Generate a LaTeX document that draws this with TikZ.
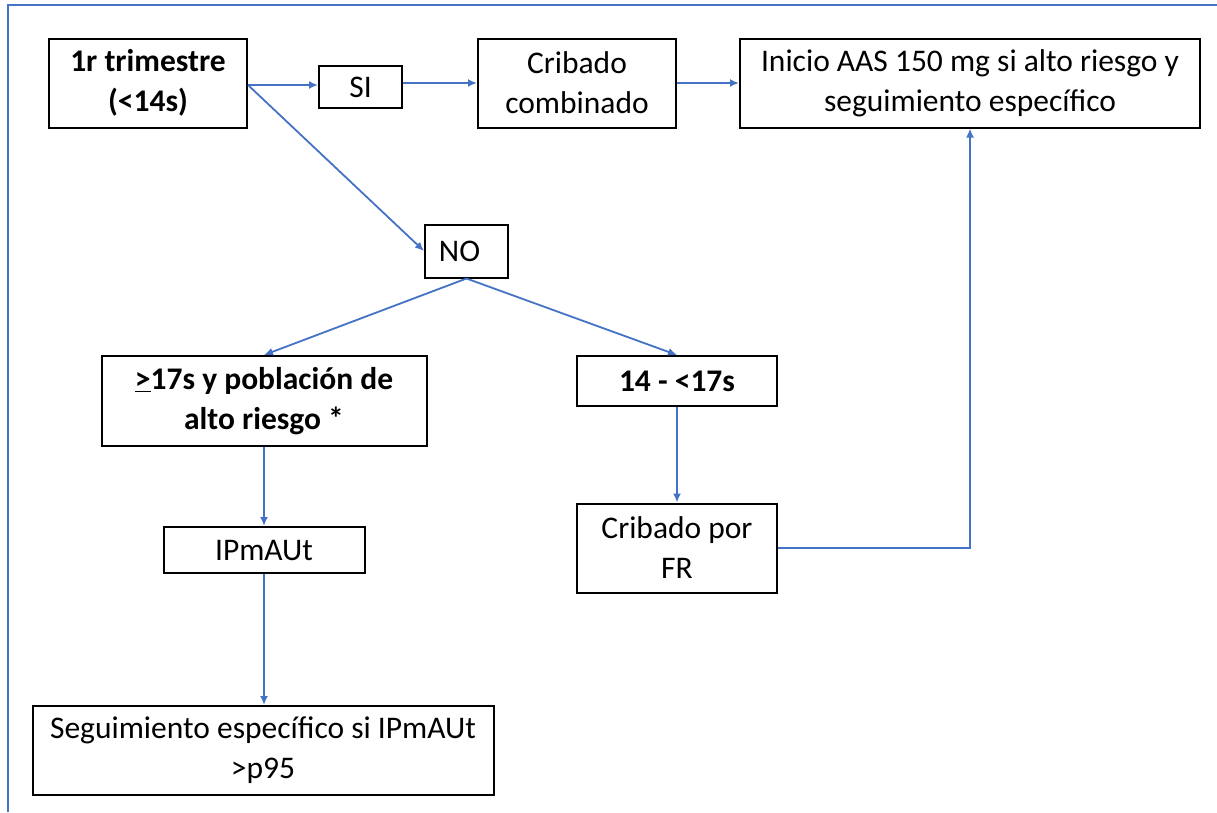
\documentclass[tikz,border=0pt]{standalone}
\usepackage{fontspec}
\setmainfont{Carlito}
\usetikzlibrary{arrows.meta,positioning}
\definecolor{flowblue}{RGB}{68,114,196}
\tikzset{>={Latex[width=8pt,length=9pt]}}
\tikzset{box/.style={shape=rectangle, draw=black, line width=2pt, fill=white,
    align=center, inner sep=2pt, font=\fontsize{31.5}{40}\selectfont}}
\tikzset{boldbox/.style={box, font=\fontsize{31.5}{40}\selectfont\bfseries}}
\tikzset{flow/.style={->, draw=flowblue, line width=1.8pt}}

\begin{document}
\begin{tikzpicture}[x=1pt, y=-1pt]
    \useasboundingbox (0,0) rectangle (1217,812);
    \draw[flowblue, line width=1.8pt] (8,812) -- (8,5) -- (1217,5);

    \node(trim)[boldbox, minimum width=198pt, minimum height=89pt] at (148,83) {1r trimestre\\(<14s)};
    \node(si)[box, minimum width=83pt, minimum height=42pt] at (360.5,87) {SI};
    \node(comb)[box, minimum width=198pt, minimum height=89pt] at (577,83) {Cribado\\combinado};
    \node(aas)[box, minimum width=460pt, minimum height=89pt] at (970,83) {Inicio AAS 150 mg si alto riesgo y\\seguimiento específico};
    \node(no)[box, minimum width=83pt, minimum height=53pt] at (466.5,251) {NO\hspace{14pt}};

    \node(alto)[boldbox, minimum width=325pt, minimum height=90pt] at (264,401) {\underline{>}17s y población de\\alto riesgo *};
    \node(mid)[boldbox, minimum width=200pt, minimum height=50pt] at (677,381) {14 - <17s};
    \node(ipm)[box, minimum width=201pt, minimum height=46pt] at (264,550) {IPmAUt};
    \node(fr)[box, minimum width=200pt, minimum height=89pt, below=95.5pt of mid] {Cribado por\\FR};
    \node(seg)[box, minimum width=461pt, minimum height=89pt] at (263,750.5) {Seguimiento específico si IPmAUt\\>p95};

    \draw [flow] ([yshift=-2pt]trim.east) -- ([yshift=-2pt]trim.east -| si.west);
    \draw [flow] (si.east |- comb.west) -- (comb.west);
    \draw [flow] (comb.east) -- (aas.west);
    \draw [flow] ([yshift=-2pt]trim.east) -- (no.west);

    \draw [flow] (no.south) -- (alto.north);
    \draw [flow] (no.south) -- (mid.north);
    \draw [flow] (alto.south) -- (ipm.north);
    \draw [flow] (ipm.south) -- (ipm.south |- seg.north);
    \draw [flow] (mid.south) -- (fr.north);
    \draw [flow] (fr.east) -| (aas.south);
\end{tikzpicture}
\end{document}
